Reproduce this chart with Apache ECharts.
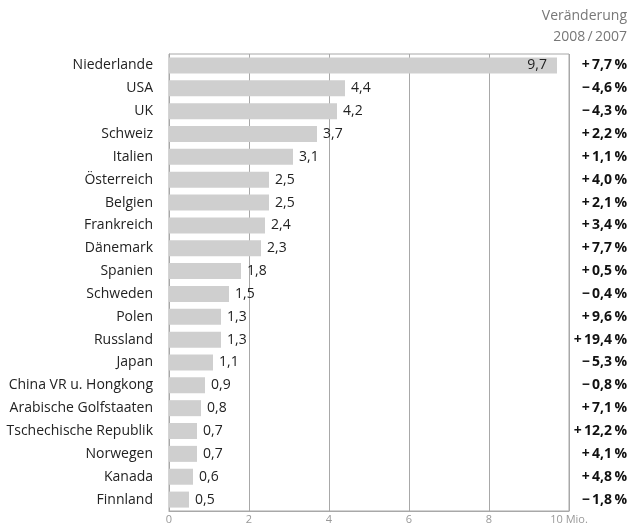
<!DOCTYPE html>
<html><head><meta charset="utf-8">
<script src="https://cdn.jsdelivr.net/npm/echarts@6/dist/echarts.min.js"></script>
<style>html,body{margin:0;padding:0;background:#fff}#c{width:630px;height:527px}</style>
</head><body><div id="c"></div>
<script>
const categories = ["Niederlande","USA","UK","Schweiz","Italien","Österreich","Belgien","Frankreich","Dänemark","Spanien","Schweden","Polen","Russland","Japan","China VR u. Hongkong","Arabische Golfstaaten","Tschechische Republik","Norwegen","Kanada","Finnland"];
const values = [9.7,4.4,4.2,3.7,3.1,2.5,2.5,2.4,2.3,1.8,1.5,1.3,1.3,1.1,0.9,0.8,0.7,0.7,0.6,0.5];
const changes = [7.7,-4.6,-4.3,2.2,1.1,4.0,2.1,3.4,7.7,0.5,-0.4,9.6,19.4,-5.3,-0.8,7.1,12.2,4.1,4.8,-1.8];
const xTicks = [0,2,4,6,8,10];
const FONT = "Open Sans";
const fmtNum = v => v.toFixed(1).replace('.', ',');
const fmtChg = v => (v < 0 ? '\u2212' : '+') + '\u2009' + Math.abs(v).toFixed(1).replace('.', ',') + '\u2009%';

const chart = echarts.init(document.getElementById('c'));
chart.setOption({
  animation: false,
  grid: { left: 169, right: 61, top: 54, bottom: 16, show: true, borderColor: '#a8a8a8', borderWidth: 1 },
  xAxis: {
    type: 'value', min: 0, max: 10, interval: 2,
    axisLine: { show: true, lineStyle: { color: '#a8a8a8' } },
    axisTick: { show: false },
    splitLine: { show: true, lineStyle: { color: '#a8a8a8', width: 1 } },
    axisLabel: { color: '#999', fontFamily: FONT, fontSize: 11, margin: 3,
      formatter: v => v === 10 ? '10 Mio.' : String(v) }
  },
  yAxis: [{
    type: 'category', data: categories, inverse: true,
    axisLine: { show: true, lineStyle: { color: '#a8a8a8' } },
    axisTick: { show: false },
    axisLabel: { color: '#222', fontFamily: FONT, fontSize: 14, margin: 16 }
  }, {
    type: 'category', data: categories, inverse: true, position: 'right',
    axisLine: { show: false }, axisTick: { show: false },
    axisLabel: { color: '#111', fontFamily: FONT, fontSize: 14, fontWeight: 'bold', align: 'right', margin: 58,
      formatter: (v, i) => fmtChg(changes[i]) }
  }],
  series: [{
    type: 'bar', data: values.map((v, i) => ({
      value: v,
      label: i === 0 ? { position: 'insideRight', distance: 10 } : undefined
    })),
    barWidth: 16,
    itemStyle: { color: '#cfcfcf' },
    label: { show: true, position: 'right', distance: 6, color: '#222', fontFamily: FONT, fontSize: 14,
      formatter: p => fmtNum(p.value) }
  }],
  graphic: [
    { type: 'text', right: 3, top: 9, style: { text: 'Veränderung', fill: '#777', font: '14px "Open Sans"', textAlign: 'right' } },
    { type: 'text', right: 3, top: 30, style: { text: '2008\u2009/\u20092007', fill: '#777', font: '14px "Open Sans"', textAlign: 'right' } }
  ]
});
</script></body></html>
